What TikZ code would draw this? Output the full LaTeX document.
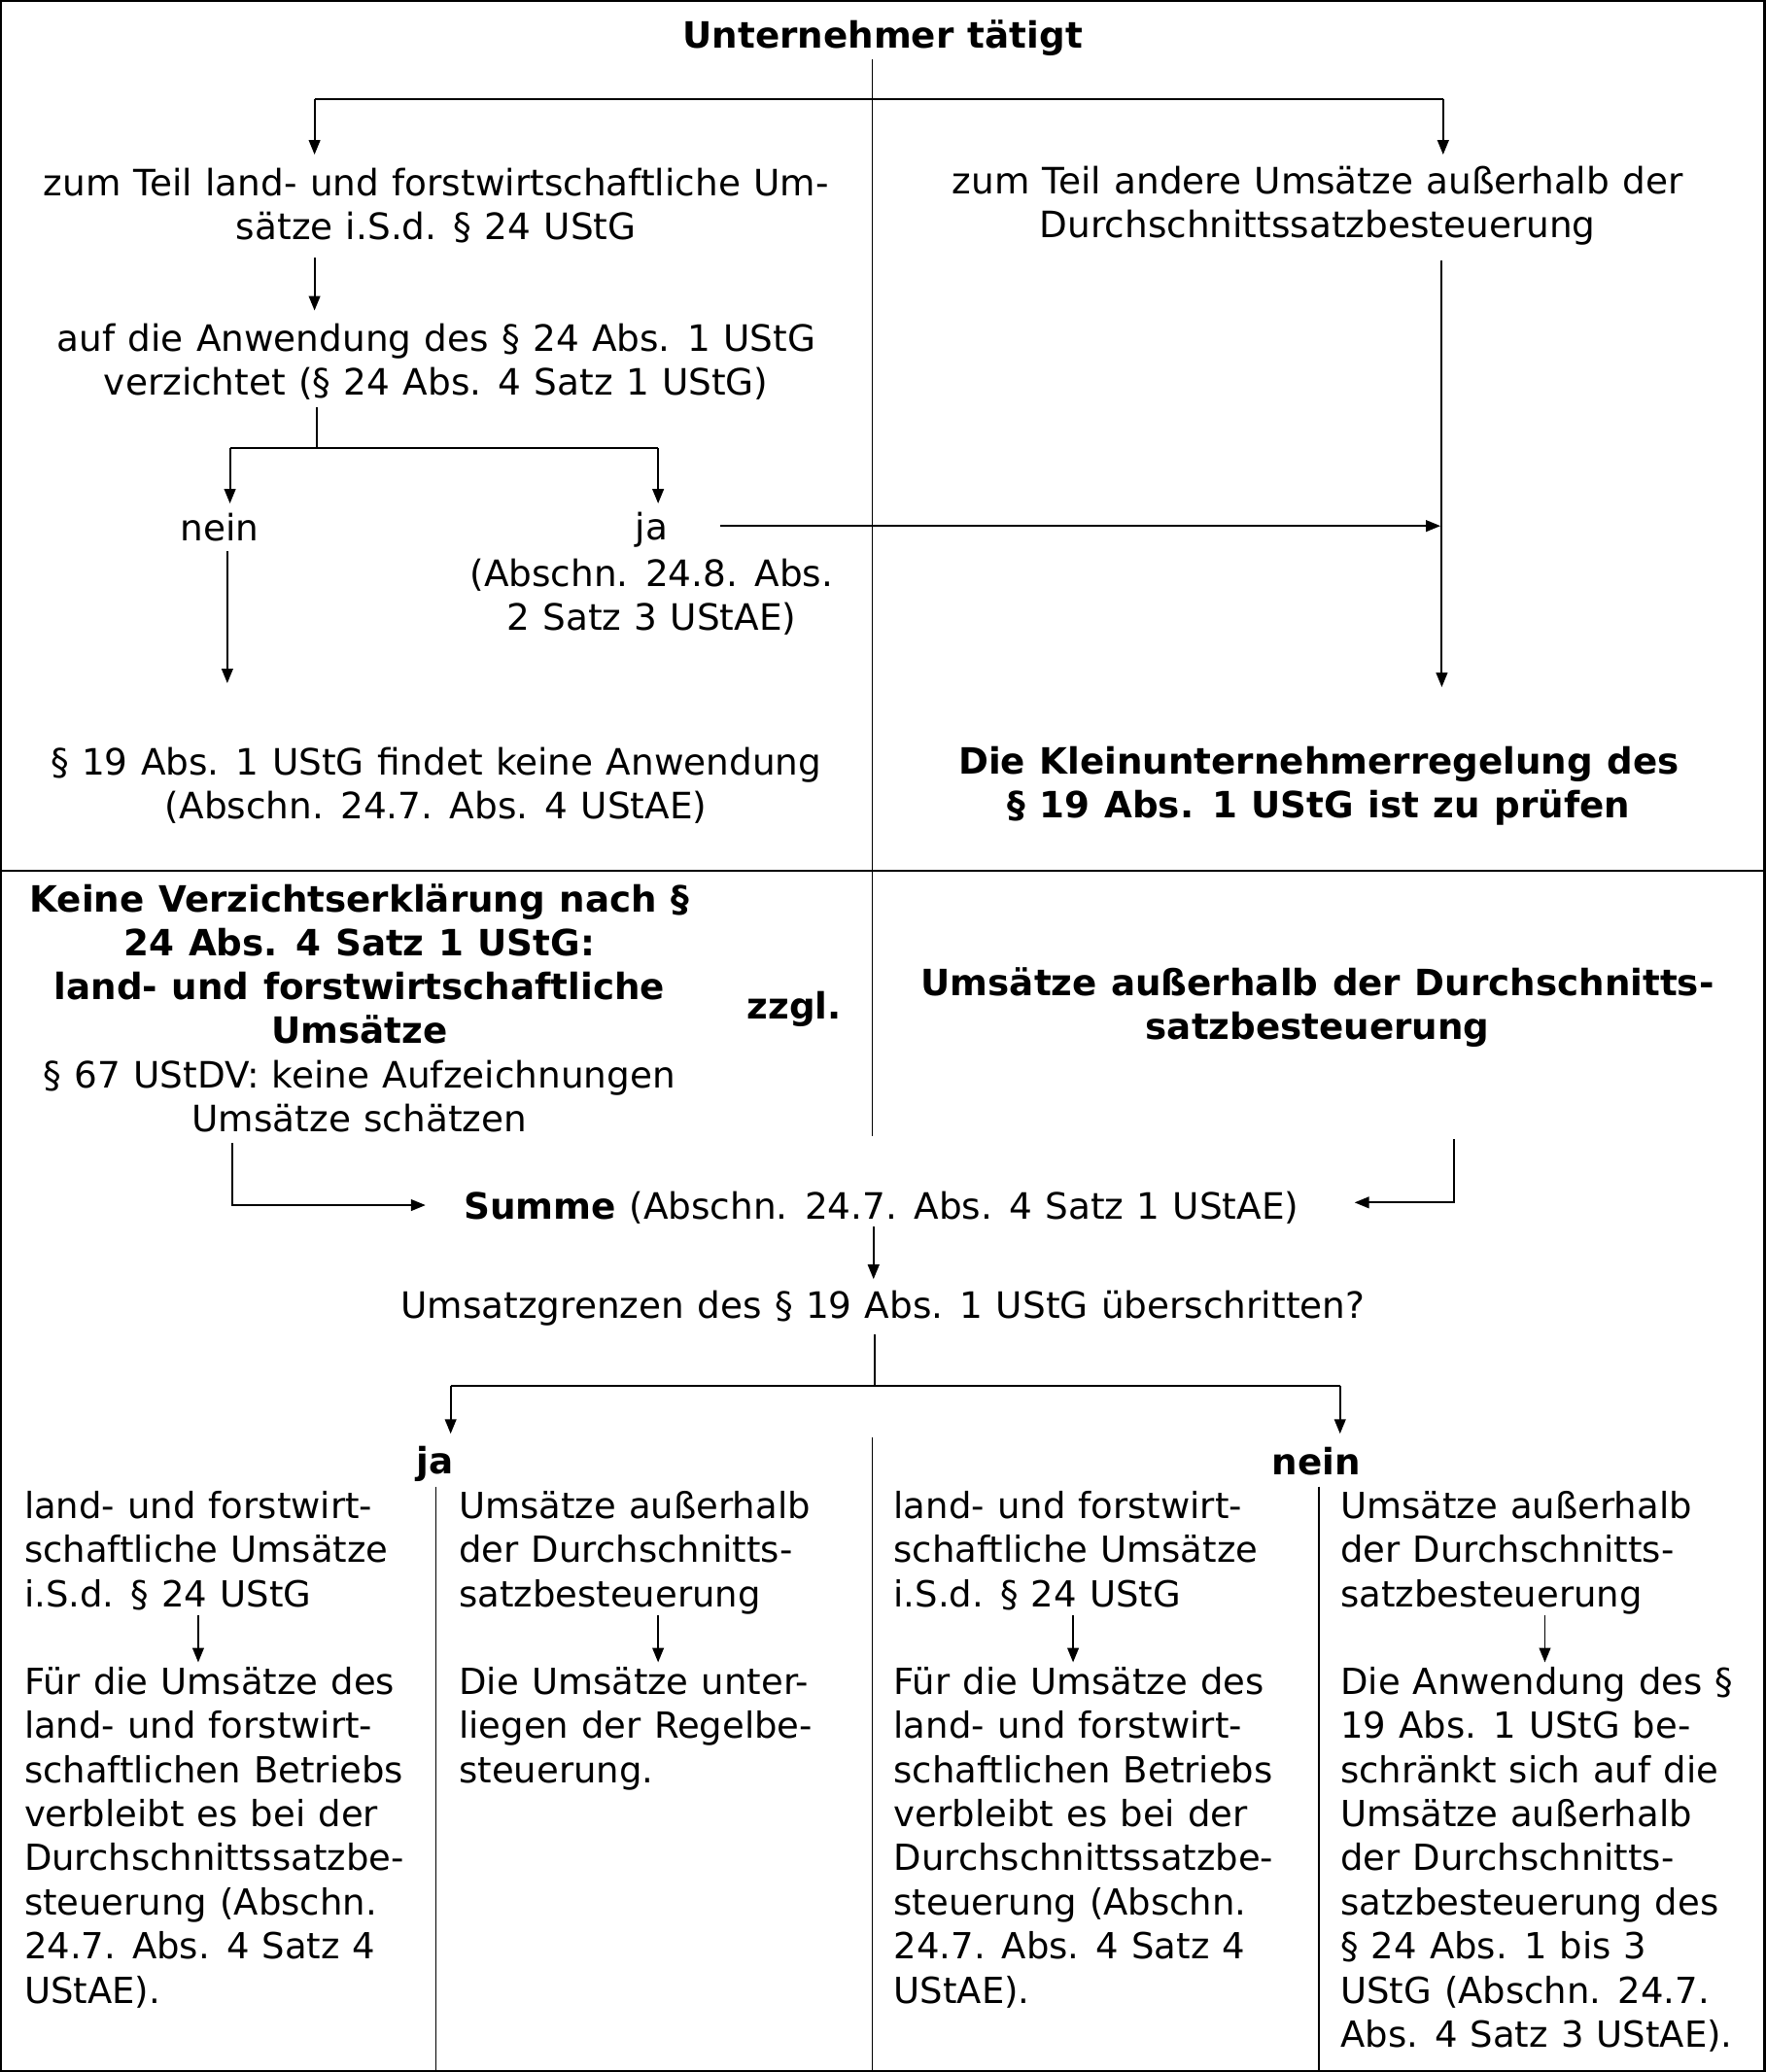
\documentclass[tikz,border=0pt]{standalone}
\usepackage{fontspec}
\setmainfont[WordSpace=1.12]{DejaVu Sans}
\usetikzlibrary{arrows.meta}
\begin{document}
\begin{tikzpicture}[x=0.5pt,y=-0.5pt,
  txt/.style={inner sep=0pt,align=center,yshift=-1pt,font=\fontsize{13.75}{16.5}\selectfont},
  btxt/.style={txt,font=\fontsize{13.7}{16.5}\selectfont\bfseries},
  col/.style={inner sep=0pt,align=left,anchor=north west,font=\fontsize{13.6}{16.7}\selectfont},
  ln/.style={line width=0.7pt},
  sep/.style={line width=0.45pt},
  arr/.style={ln,-{Triangle[length=5.5pt,width=4.3pt]}}]
\useasboundingbox (0,0) rectangle (1336,1568);
\draw[line width=0.8pt] (0.8,0.8) rectangle (1335.2,1567.2);
% ---------- top section ----------
\node[btxt] (title) at (668,27) {Unternehmer tätigt};
\node[txt] (n1) at (330,153.5) {zum Teil land- und forstwirtschaftliche Um-\\sätze i.S.d. § 24 UStG};
\node[txt] (n2) at (997,153.5) {zum Teil andere Umsätze außerhalb der\\Durchschnittssatzbesteuerung};
\node[txt] (n3) at (330,271.5) {auf die Anwendung des § 24 Abs. 1 UStG\\verzichtet (§ 24 Abs. 4 Satz 1 UStG)};
\node[txt] (nein1) at (166,397) {nein};
\node[txt] (ja1) at (493,399) {ja};
\node[txt] (ref1) at (493,449.5) {(Abschn. 24.8. Abs.\\2 Satz 3 UStAE)};
\node[txt] (r19) at (330,592.5) {§ 19 Abs. 1 UStG findet keine Anwendung\\(Abschn. 24.7. Abs. 4 UStAE)};
\node[btxt] (klein) at (998,592.5) {Die Kleinunternehmerregelung des\\§ 19 Abs. 1 UStG ist zu prüfen};

\coordinate (t0) at (660,45);
\coordinate (t1) at (660,860);
\coordinate (hL) at (238,75);
\coordinate (hR) at (1092,75);
\draw[sep] (t0) -- (t1);
\draw[ln] (hL) -- (hR);
\draw[arr] (hL) -- (238,117);
\draw[arr] (hR) -- (1092,117);
\draw[arr] (238,195) -- (238,235);
\coordinate (v0) at (240,308);
\coordinate (v1) at (240,339);
\coordinate (bL) at (174,339);
\coordinate (bR) at (498,339);
\draw[ln] (v0) -- (v1);
\draw[ln] (bL) -- (bR);
\draw[arr] (bL) -- (174,381);
\draw[arr] (bR) -- (498,381);
\draw[arr] (545,398) -- (1090,398);
\draw[arr] (1091,197) -- (1091,520);
\draw[arr] (172,417) -- (172,517);
\draw[line width=0.8pt] (0,659) -- (1336,659);
% ---------- middle section ----------
\node[btxt] (lk) at (272,727.5) {Keine Verzichtserklärung nach §\\24 Abs. 4 Satz 1 UStG:\\land- und forstwirtschaftliche\\Umsätze};
\node[txt] (lk2) at (272,827.5) {§ 67 UStDV: keine Aufzeichnungen\\Umsätze schätzen};
\node[btxt] (zzgl) at (601,762) {zzgl.};
\node[btxt] (ua) at (997,760.5) {Umsätze außerhalb der Durchschnitts-\\satzbesteuerung};
\node[txt] (summe) at (667,912) {\textbf{Summe} (Abschn. 24.7. Abs. 4 Satz 1 UStAE)};
\node[txt] (grenz) at (668,988) {Umsatzgrenzen des § 19 Abs. 1 UStG überschritten?};
\draw[arr] (176,865) -- (176,912) -- (322,912);
\draw[arr] (1100,862) -- (1100,910) -- (1025,910);
\draw[arr] (661,928) -- (661,968);
\coordinate (g0) at (662,1010);
\coordinate (g1) at (662,1049);
\coordinate (gL) at (341,1049);
\coordinate (gR) at (1014,1049);
\draw[ln] (g0) -- (g1);
\draw[ln] (gL) -- (gR);
\draw[arr] (gL) -- (341,1085);
\draw[arr] (gR) -- (1014,1085);
\node[btxt] (ja2) at (329,1106) {ja};
\node[btxt] (nein2) at (996,1104) {nein};
% ---------- bottom columns ----------
\draw[sep] (660,1088) -- (660,1568);
\draw[sep] (330,1125) -- (330,1568);
\draw[sep] (998,1125) -- (998,1568);
\node[col] (c1a) at (18,1128) {land- und forstwirt-\\schaftliche Umsätze\\i.S.d. § 24 UStG};
\node[col] (c1b) at (18,1261) {Für die Umsätze des\\land- und forstwirt-\\schaftlichen Betriebs\\verbleibt es bei der\\Durchschnittssatzbe-\\steuerung (Abschn.\\24.7. Abs. 4 Satz 4\\UStAE).};
\node[col] (c2a) at (347,1128) {Umsätze außerhalb\\der Durchschnitts-\\satzbesteuerung};
\node[col] (c2b) at (347,1261) {Die Umsätze unter-\\liegen der Regelbe-\\steuerung.};
\node[col] (c3a) at (676,1128) {land- und forstwirt-\\schaftliche Umsätze\\i.S.d. § 24 UStG};
\node[col] (c3b) at (676,1261) {Für die Umsätze des\\land- und forstwirt-\\schaftlichen Betriebs\\verbleibt es bei der\\Durchschnittssatzbe-\\steuerung (Abschn.\\24.7. Abs. 4 Satz 4\\UStAE).};
\node[col] (c4a) at (1014,1128) {Umsätze außerhalb\\der Durchschnitts-\\satzbesteuerung};
\node[col] (c4b) at (1014,1261) {Die Anwendung des §\\19 Abs. 1 UStG be-\\schränkt sich auf die\\Umsätze außerhalb\\der Durchschnitts-\\satzbesteuerung des\\§ 24 Abs. 1 bis 3\\UStG (Abschn. 24.7.\\Abs. 4 Satz 3 UStAE).};
\draw[arr] (150,1222) -- (150,1258);
\draw[arr] (498,1222) -- (498,1258);
\draw[arr] (812,1222) -- (812,1258);
\draw[arr] (1169,1222) -- (1169,1258);
\end{tikzpicture}
\end{document}
